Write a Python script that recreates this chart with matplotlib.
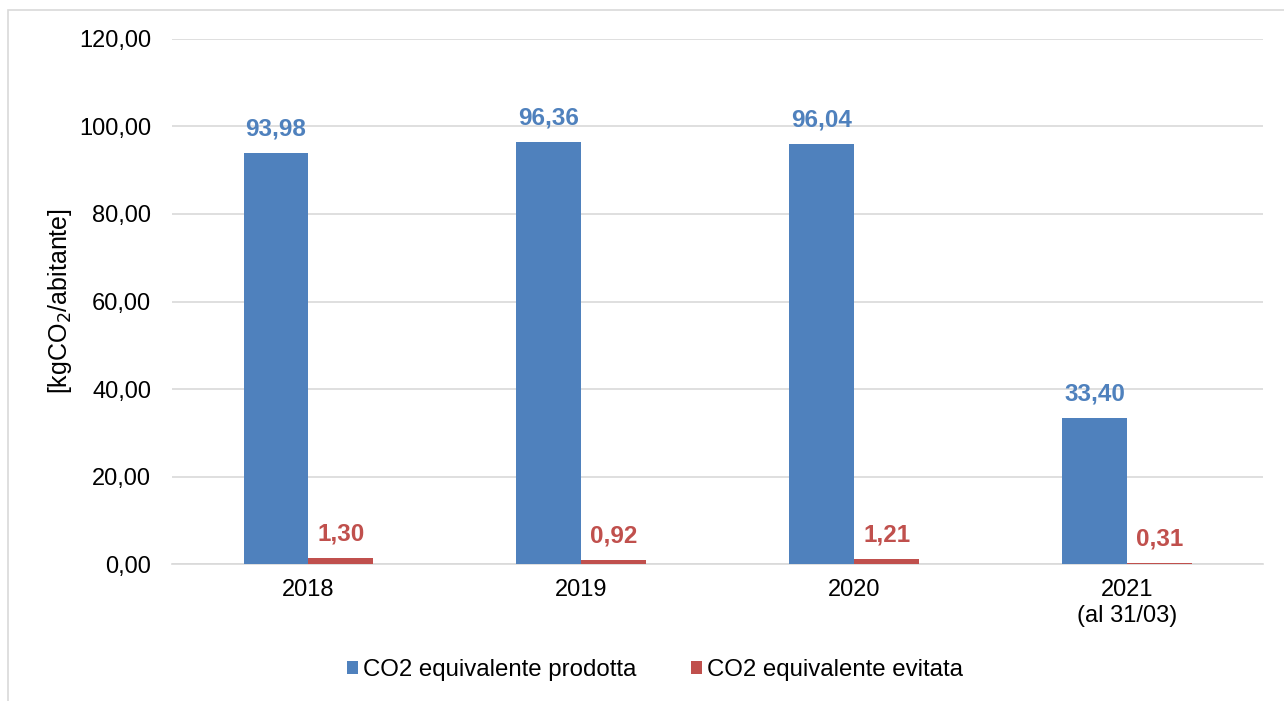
import numpy as np
import matplotlib.pyplot as plt
from matplotlib.patches import Rectangle

plt.rcParams['font.family'] = ['Liberation Sans', 'DejaVu Sans']

# data
years = ['2018', '2019', '2020', '2021\n(al 31/03)']
prodotta = [93.98, 96.36, 96.04, 33.40]
evitata = [1.30, 0.92, 1.21, 0.31]

blue = '#4F81BD'
red = '#C0504D'
grid_col = '#D9D9D9'

fig = plt.figure(figsize=(12.84, 7.01), dpi=100)
ax = fig.add_axes([0.134, 0.1954, 0.850, 0.749])

# light frame around the chart area
fig.patches.append(Rectangle((8 / 1284, -0.1), 1.2, 1 - 10 / 701 + 0.1,
                             transform=fig.transFigure, fill=False,
                             edgecolor='#D9D9D9', linewidth=1.2))

x = np.arange(len(years))
w = 0.238
b1 = ax.bar(x - w / 2, prodotta, w, color=blue, label='CO2 equivalente prodotta', zorder=3)
b2 = ax.bar(x + w / 2, evitata, w, color=red, label='CO2 equivalente evitata', zorder=3)

def fmt(v):
    return f'{v:.2f}'.replace('.', ',')

for rect, v in zip(b1, prodotta):
    ax.annotate(fmt(v), (rect.get_x() + rect.get_width() / 2, v), xytext=(0, 9),
                textcoords='offset points', ha='center', va='bottom',
                color=blue, fontsize=17.5, fontweight='bold')
for rect, v in zip(b2, evitata):
    ax.annotate(fmt(v), (rect.get_x() + rect.get_width() / 2, v), xytext=(0, 9),
                textcoords='offset points', ha='center', va='bottom',
                color=red, fontsize=17.5, fontweight='bold')

ax.set_xlim(-0.5, len(years) - 0.5)
ax.set_ylim(0, 120)
ax.set_yticks(np.arange(0, 121, 20))
ax.set_yticklabels([fmt(v) for v in np.arange(0, 121, 20)])
ax.set_xticks(x)
ax.set_xticklabels(years)
ax.tick_params(axis='y', length=0, pad=15, labelsize=17)
ax.tick_params(axis='x', length=0, pad=11, labelsize=17)

ax.grid(axis='y', color=grid_col, linewidth=1.2, zorder=0)
for s in ['top', 'right', 'left']:
    ax.spines[s].set_visible(False)
ax.spines['bottom'].set_color(grid_col)
ax.spines['bottom'].set_linewidth(1.2)

ax.set_ylabel('[kgCO$_2$/abitante]', fontsize=18, labelpad=4)

fig.legend(handles=[b1, b2], loc='center', bbox_to_anchor=(0.51, 0.044), ncol=2,
           frameon=False, fontsize=17.3, handlelength=0.45, handleheight=0.45,
           handletextpad=0.2, columnspacing=2.3)

fig.savefig('out.png', dpi=100)
